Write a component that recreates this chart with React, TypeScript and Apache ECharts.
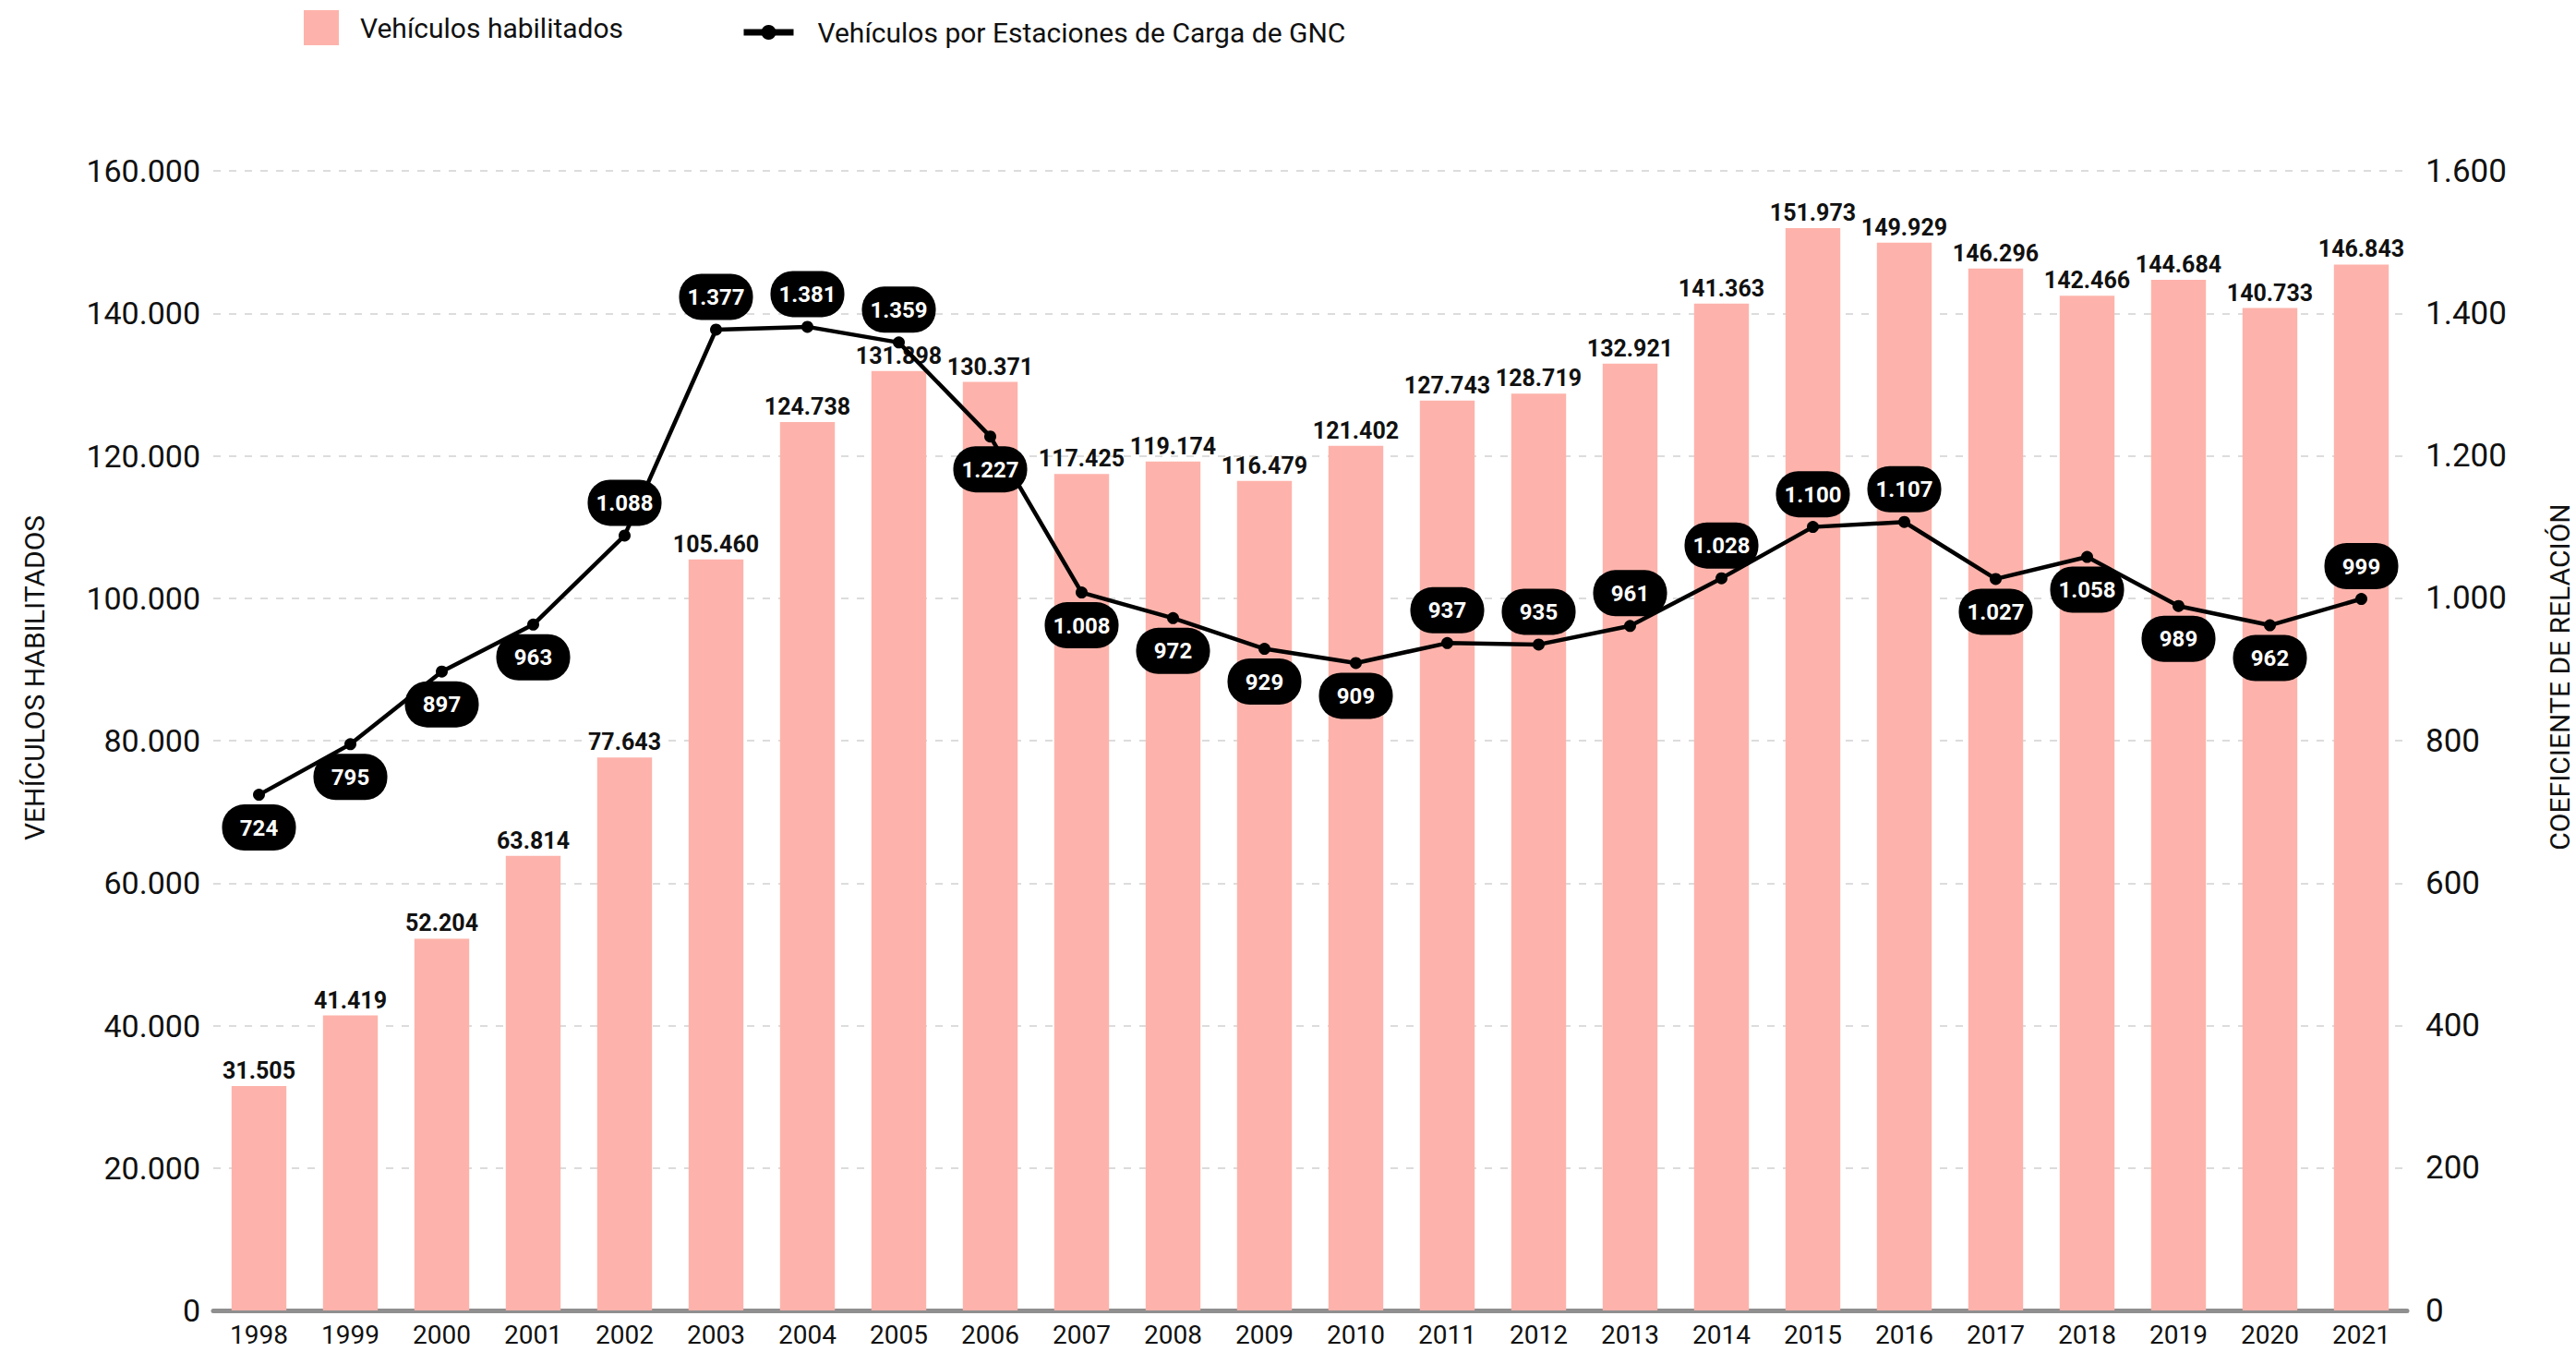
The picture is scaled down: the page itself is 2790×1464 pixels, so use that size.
import React, { useEffect, useRef } from "react";
import * as echarts from "echarts";

const years = ["1998","1999","2000","2001","2002","2003","2004","2005","2006","2007","2008","2009","2010","2011","2012","2013","2014","2015","2016","2017","2018","2019","2020","2021"];
const vehiculos = [31505,41419,52204,63814,77643,105460,124738,131898,130371,117425,119174,116479,121402,127743,128719,132921,141363,151973,149929,146296,142466,144684,140733,146843];
const coeficiente = [724,795,897,963,1088,1377,1381,1359,1227,1008,972,929,909,937,935,961,1028,1100,1107,1027,1058,989,962,999];
const labelSide = ["bottom","bottom","bottom","bottom","top","top","top","top","bottom","bottom","bottom","bottom","bottom","top","top","top","top","top","top","bottom","bottom","bottom","bottom","top"];
const leftTicks = { min: 0, max: 160000, interval: 20000 };
const rightTicks = { min: 0, max: 1600, interval: 200 };

const FONT = "Roboto, 'Noto Sans', sans-serif";
const fmt = (v: number) => String(Math.round(v)).replace(/\B(?=(\d{3})+(?!\d))/g, ".");

export default function App() {
  const ref = useRef<HTMLDivElement>(null);
  useEffect(() => {
    if (!ref.current) return;
    document.body.style.margin = "0";
    document.body.style.overflow = "hidden";
    document.documentElement.style.overflow = "hidden";
    const chart = echarts.init(ref.current, undefined, { renderer: "svg" });
    chart.setOption({
      animation: false,
      backgroundColor: "#ffffff",
      textStyle: { fontFamily: FONT },
      grid: { left: 231, right: 183, top: 185, bottom: 45, containLabel: false },
      legend: [
        {
          data: [{ name: "Vehículos habilitados", icon: "rect" }],
          left: 324, top: 6,
          itemWidth: 38, itemHeight: 38,
          textStyle: { fontSize: 30, color: "#111", fontFamily: FONT, padding: [0, 0, 0, 18] },
        },
        {
          data: ["Vehículos por Estaciones de Carga de GNC"],
          left: 797, top: 15,
          itemWidth: 54, itemHeight: 20,
          lineStyle: { width: 7, color: "#000" },
          itemStyle: { color: "#000" },
          textStyle: { fontSize: 30, color: "#111", fontFamily: FONT, padding: [0, 0, 0, 21] },
        },
      ],
      xAxis: {
        type: "category",
        data: years,
        axisLine: { lineStyle: { color: "#8f8f8f", width: 5 } },
        axisTick: { show: false },
        axisLabel: { fontSize: 28, color: "#111", margin: 12, fontFamily: FONT },
      },
      yAxis: [
        {
          type: "value",
          ...leftTicks,
          axisLine: { show: false },
          axisTick: { show: false },
          axisLabel: { fontSize: 34, color: "#111", margin: 14, formatter: (v: number) => fmt(v), fontFamily: FONT },
          splitLine: { lineStyle: { color: "#dcdcdc", width: 2, type: [8, 9] } },
        },
        {
          type: "value",
          ...rightTicks,
          position: "right",
          axisLine: { show: false },
          axisTick: { show: false },
          axisLabel: { fontSize: 35, color: "#111", margin: 20, formatter: (v: number) => fmt(v), fontFamily: FONT },
          splitLine: { show: false },
        },
      ],
      graphic: [
        {
          type: "text",
          x: 37, y: 734,
          rotation: Math.PI / 2,
          style: { text: "VEHÍCULOS HABILITADOS", fontSize: 30, fill: "#111", fontFamily: FONT, align: "center", verticalAlign: "middle" },
        },
        {
          type: "text",
          x: 2772, y: 733,
          rotation: Math.PI / 2,
          style: { text: "COEFICIENTE DE RELACIÓN", fontSize: 30, fill: "#111", fontFamily: FONT, align: "center", verticalAlign: "middle" },
        },
      ],
      series: [
        {
          name: "Vehículos habilitados",
          type: "bar",
          data: vehiculos,
          barCategoryGap: "40%",
          itemStyle: { color: "#FDB3AB" },
          label: {
            show: true, position: "top", distance: 4,
            fontSize: 25, fontWeight: "bold", color: "#111", fontFamily: FONT,
            formatter: (p: any) => fmt(p.value),
          },
          z: 1,
        },
        {
          name: "Vehículos por Estaciones de Carga de GNC",
          type: "line",
          yAxisIndex: 1,
          data: coeficiente.map((v, i) => ({
            value: v,
            label: { position: labelSide[i] },
          })),
          symbol: "circle",
          symbolSize: 13,
          itemStyle: { color: "#000" },
          lineStyle: { color: "#000", width: 4.5 },
          label: {
            show: true,
            distance: 4,
            fontSize: 24, fontWeight: "bold", color: "#fff", fontFamily: FONT,
            backgroundColor: "#000",
            borderRadius: 24,
            padding: [12, 11, 11, 11],
            width: 58,
            align: "center",
            lineHeight: 27,
            formatter: (p: any) => fmt(p.value),
          },
          z: 3,
        },
      ],
    });
    return () => chart.dispose();
  }, []);
  return <div ref={ref} style={{ position: "absolute", left: 0, top: 0, width: 2790, height: 1464 }} />;
}
